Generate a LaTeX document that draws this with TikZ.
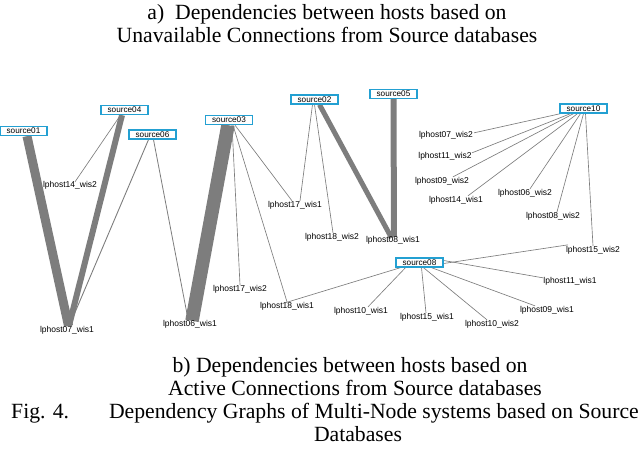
\documentclass[tikz,border=0pt]{standalone}
\usepackage{fontspec}
\setmainfont{Liberation Serif}
\newfontfamily\labfont{Liberation Sans}
\usetikzlibrary{backgrounds}
\definecolor{srcblue}{RGB}{35,160,210}
\definecolor{edgegray}{RGB}{125,125,125}
\begin{document}
\begin{tikzpicture}[x=1pt,y=-1pt,
  src/.style={draw=srcblue,fill=white,line width=1.3pt,minimum width=47pt,minimum height=9pt,inner sep=0pt,font=\labfont\fontsize{8.2}{9}\selectfont},
  host/.style={inner sep=0pt,font=\labfont\fontsize{8.5}{9}\selectfont},
  thinedge/.style={draw=edgegray,line width=0.65pt},
  band/.style={draw=edgegray,line cap=butt},
  captxt/.style={inner sep=0pt,anchor=base,font=\fontsize{21.7}{23}\selectfont}]
\useasboundingbox (0,0) rectangle (640,452);
% captions
\node[captxt] (ca1) at (327,20) {a)\ \ Dependencies between hosts based on};
\node[captxt] (ca2) at (327,43) {Unavailable Connections from Source databases};
\node[captxt] (cb1) at (350,372) {b) Dependencies between hosts based on};
\node[captxt] (cb2) at (355,395) {Active Connections from Source databases};
\node[captxt,anchor=base west] (fig) at (11,418) {Fig. 4.};
\node[captxt,anchor=base east] (fig2) at (639,418) {Dependency Graphs of Multi-Node systems based on Source};
\node[captxt] (fig3) at (358,441) {Databases};
% hosts
\node[host] (h1402) at (70,185) {lphost14\_wis2};
\node[host] (h0701) at (67,330) {lphost07\_wis1};
\node[host] (h0601) at (190,324) {lphost06\_wis1};
\node[host] (h1701) at (295,205) {lphost17\_wis1};
\node[host] (h1802) at (332,237) {lphost18\_wis2};
\node[host] (h0801) at (393,240) {lphost08\_wis1};
\node[host] (h1702) at (240,289) {lphost17\_wis2};
\node[host] (h1801) at (287,306) {lphost18\_wis1};
\node[host] (h1001) at (361,311) {lphost10\_wis1};
\node[host] (h0702) at (446,135) {lphost07\_wis2};
\node[host] (h1102) at (445,156) {lphost11\_wis2};
\node[host] (h0902) at (442,181) {lphost09\_wis2};
\node[host] (h1401) at (456,200) {lphost14\_wis1};
\node[host] (h0602) at (525,193) {lphost06\_wis2};
\node[host] (h0802) at (553,216) {lphost08\_wis2};
\node[host] (h1502) at (593,250) {lphost15\_wis2};
\node[host] (h1101) at (570,281) {lphost11\_wis1};
\node[host] (h0901) at (547,310) {lphost09\_wis1};
\node[host] (h1002) at (492,324) {lphost10\_wis2};
\node[host] (h1501) at (427,317) {lphost15\_wis1};
% sources
\node[src] (s01) at (23.5,131) {source01};
\node[src] (s04) at (124.5,110) {source04};
\node[src] (s06) at (152.5,134.5) {source06};
\node[src] (s03) at (229,120) {source03};
\node[src] (s02) at (314.5,99.5) {source02};
\node[src] (s05) at (393.5,94) {source05};
\node[src] (s10) at (583.5,108.5) {source10};
\node[src] (s08) at (419.5,262.5) {source08};
\begin{scope}[on background layer]
% thick bands
\draw[band,line width=9pt] ([xshift=3.5pt]s01.south) -- ([xshift=1.5pt]h0701.north);
\draw[band,line width=6pt] ([xshift=-2.5pt]s04.south) -- ([xshift=2pt]h0701.north);
\draw[band,line width=13.5pt] ([xshift=-1pt]s03.south) -- ([xshift=2pt,yshift=-1pt]h0601.north);
\draw[band,line width=5pt] ([xshift=5pt]s02.south) -- ([xshift=-1.5pt,yshift=-2pt]h0801.north);
\draw[band,line width=6pt] (s05.south) -- ([xshift=1pt,yshift=-1pt]h0801.north);
% thin edges
\draw[thinedge] ([xshift=-4pt]s04.south) -- ([xshift=5pt,yshift=-1pt]h1402.north);
\draw[thinedge,line width=0.9pt] ([xshift=-4pt]s06.south) -- ([xshift=4pt,yshift=4pt]h0701.north);
\draw[thinedge,line width=0.8pt] ([xshift=1pt]s06.south) -- ([xshift=-3pt,yshift=6pt]h0601.north);
\draw[thinedge] ([xshift=3pt]s03.south) -- ([xshift=0pt]h1702.north);
\draw[thinedge] ([xshift=4pt]s03.south) -- ([xshift=0pt]h1801.north);
\draw[thinedge] ([xshift=6pt]s03.south) -- ([xshift=-3pt]h1701.north);
\draw[thinedge] ([xshift=-2pt]s02.south) -- ([xshift=5pt]h1701.north);
\draw[thinedge] ([xshift=0pt]s02.south) -- ([xshift=1pt]h1802.north);
\draw[thinedge] ([xshift=-23pt]s10.south) -- ([xshift=28pt,yshift=-2pt]h0702.north);
\draw[thinedge] ([xshift=-13pt]s10.south) -- ([xshift=27pt,yshift=-1pt]h1102.north);
\draw[thinedge] ([xshift=-10pt]s10.south) -- ([xshift=11pt]h0902.north);
\draw[thinedge] ([xshift=-6pt]s10.south) -- ([xshift=12pt]h1401.north);
\draw[thinedge] ([xshift=-3pt]s10.south) -- ([xshift=5pt]h0602.north);
\draw[thinedge] ([xshift=0pt]s10.south) -- ([xshift=4pt]h0802.north);
\draw[thinedge] ([xshift=2pt]s10.south) -- ([xshift=0pt]h1502.north);
\draw[thinedge] ([yshift=-1pt]s08.east) -- ([xshift=-25pt,yshift=1pt]h1502.north);
\draw[thinedge] ([yshift=2pt]s08.east) -- ([xshift=-27pt,yshift=-1pt]h1101.north);
\draw[thinedge] ([xshift=12pt]s08.south) -- ([xshift=-12pt]h0901.north);
\draw[thinedge] ([xshift=4pt]s08.south) -- ([xshift=-5pt]h1002.north);
\draw[thinedge] ([xshift=2pt]s08.south) -- ([xshift=-1pt]h1501.north);
\draw[thinedge] ([xshift=-14pt]s08.south) -- ([xshift=7pt]h1001.north);
\draw[thinedge] ([xshift=-19pt]s08.south) -- ([xshift=-2pt,yshift=-1pt]h1801.north);
\end{scope}
\end{tikzpicture}
\end{document}
